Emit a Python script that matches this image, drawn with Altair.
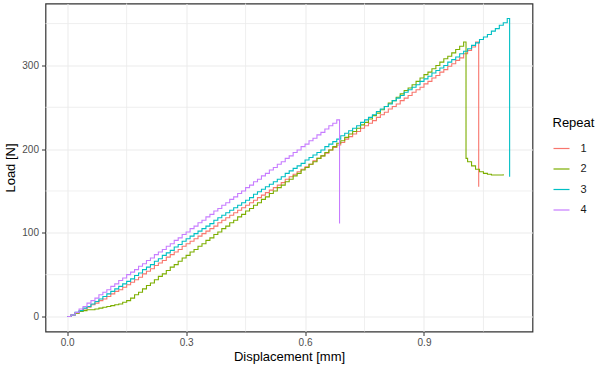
import altair as alt
import pandas as pd

repeats = ["1", "2", "3", "4"]
colors = ["#F8766D", "#7CAE00", "#00BFC4", "#C77CFF"]

disp = [
    0.00, 0.01, 0.02, 0.03, 0.04, 0.05, 0.06, 0.07, 0.08, 0.09,
    0.10, 0.11, 0.12, 0.13, 0.14, 0.15, 0.16, 0.17, 0.18, 0.19,
    0.20, 0.21, 0.22, 0.23, 0.24, 0.25, 0.26, 0.27, 0.28, 0.29,
    0.30, 0.31, 0.32, 0.33, 0.34, 0.35, 0.36, 0.37, 0.38, 0.39,
    0.40, 0.41, 0.42, 0.43, 0.44, 0.45, 0.46, 0.47, 0.48, 0.49,
    0.50, 0.51, 0.52, 0.53, 0.54, 0.55, 0.56, 0.57, 0.58, 0.59,
    0.60, 0.61, 0.62, 0.63, 0.64, 0.65, 0.66, 0.67, 0.68, 0.69,
    0.70, 0.71, 0.72, 0.73, 0.74, 0.75, 0.76, 0.77, 0.78, 0.79,
    0.80, 0.81, 0.82, 0.83, 0.84, 0.85, 0.86, 0.87, 0.88, 0.89,
    0.90, 0.91, 0.92, 0.93, 0.94, 0.95, 0.96, 0.97, 0.98, 0.99,
    1.00, 1.01, 1.02, 1.03, 1.04, 1.05, 1.06, 1.07, 1.08, 1.09,
    1.10, 1.11,
]

load_1 = [
    0, 2, 4, 6, 9, 11, 14, 16, 19, 21,
    24, 27, 30, 32, 35, 38, 41, 44, 47, 51,
    54, 57, 61, 64, 67, 71, 74, 77, 80, 84,
    87, 90, 93, 96, 99, 102, 105, 108, 112, 115,
    118, 121, 124, 127, 130, 133, 136, 139, 142, 145,
    148, 151, 154, 157, 160, 164, 167, 170, 173, 176,
    179, 182, 186, 189, 192, 195, 199, 202, 205, 208,
    212, 215, 218, 221, 225, 228, 231, 234, 238, 241,
    244, 248, 251, 254, 258, 261, 264, 268, 271, 274,
    278, 281, 285, 288, 292, 295, 299, 302, 306, 309,
    314, 318, 322, 328,
]

load_2 = [
    0, 2, 4, 6, 7, 8, 8, 9, 10, 11,
    12, 13, 14, 15, 17, 19, 22, 26, 29, 33,
    37, 40, 44, 48, 51, 55, 59, 62, 66, 70,
    73, 77, 80, 84, 87, 91, 94, 98, 101, 105,
    108, 112, 115, 119, 122, 126, 129, 133, 136, 140,
    143, 147, 150, 154, 157, 161, 164, 168, 171, 175,
    178, 182, 185, 189, 192, 196, 199, 203, 207, 210,
    214, 218, 221, 225, 229, 232, 236, 240, 243, 247,
    251, 255, 258, 262, 266, 270, 273, 277, 281, 285,
    289, 292, 296, 300, 304, 308, 311, 315, 319, 323,
    328, 185, 180, 176, 173, 171, 170, 169, 169, 169,
    170,
]

load_3 = [
    0, 2, 5, 7, 10, 12, 15, 18, 21, 24,
    27, 30, 33, 36, 39, 42, 45, 49, 52, 56,
    59, 62, 66, 69, 73, 76, 79, 83, 86, 90,
    93, 96, 99, 102, 105, 108, 111, 115, 118, 121,
    124, 127, 130, 133, 136, 139, 142, 146, 149, 152,
    155, 158, 161, 164, 167, 171, 174, 177, 180, 183,
    187, 190, 193, 196, 199, 203, 206, 209, 212, 216,
    219, 222, 225, 228, 232, 235, 238, 241, 245, 248,
    251, 254, 258, 261, 264, 268, 271, 274, 277, 281,
    284, 287, 291, 294, 297, 300, 304, 307, 310, 314,
    317, 320, 324, 327, 331, 334, 337, 341, 344, 348,
    351, 356,
]

load_4 = [
    0, 2, 5, 9, 12, 16, 19, 22, 26, 29,
    32, 36, 39, 43, 46, 50, 53, 56, 60, 63,
    67, 70, 74, 77, 80, 84, 87, 91, 94, 98,
    101, 105, 108, 112, 115, 119, 122, 126, 129, 133,
    136, 140, 143, 147, 150, 154, 157, 161, 164, 168,
    171, 175, 178, 182, 185, 189, 192, 196, 199, 203,
    206, 210, 213, 217, 220, 224, 228, 231, 235,
]

# failure (drop) points of each repeat
break_x = [1.038, 1.006, 1.116, 0.687]
break_y = [155, 189, 167, 111]

x_ticks = [0.0, 0.3, 0.6, 0.9]
y_ticks = [0, 100, 200, 300]
x_minor = [0.15, 0.45, 0.75, 1.05]
y_minor = [50, 150, 250, 350]

rows = []
for r, loads, bx, by in zip(repeats, [load_1, load_2, load_3, load_4], break_x, break_y):
    for d, l in zip(disp, loads):
        rows.append({"Displacement": d, "Load": l, "Repeat": r})
    rows.append({"Displacement": bx, "Load": by, "Repeat": r})
df = pd.DataFrame(rows)

FONT = "Liberation Sans"
x_scale = alt.Scale(domain=[-0.0547, 1.1737], nice=False, zero=False)
y_scale = alt.Scale(domain=[-17.9, 374], nice=False, zero=False)

x_axis = alt.Axis(values=x_ticks, format=".1f", title="Displacement [mm]",
                  grid=True, gridColor="#EBEBEB", domain=False,
                  tickColor="#333333", tickSize=4, labelColor="#4D4D4D",
                  labelFontSize=10, labelFont=FONT, titleFont=FONT,
                  titleFontSize=13, titleFontWeight="normal", titleColor="#000000",
                  labelPadding=2, titlePadding=3)
y_axis = alt.Axis(values=y_ticks, format="d", title="Load [N]",
                  grid=True, gridColor="#EBEBEB", domain=False,
                  tickColor="#333333", tickSize=4, labelColor="#4D4D4D",
                  labelFontSize=10, labelFont=FONT, titleFont=FONT,
                  titleFontSize=13, titleFontWeight="normal", titleColor="#000000",
                  labelPadding=3, titlePadding=4)

minor_x = alt.Chart(pd.DataFrame({"Displacement": x_minor})).mark_rule(
    color="#EBEBEB", strokeWidth=0.8
).encode(x=alt.X("Displacement:Q", scale=x_scale, axis=x_axis))

minor_y = alt.Chart(pd.DataFrame({"Load": y_minor})).mark_rule(
    color="#EBEBEB", strokeWidth=0.8
).encode(y=alt.Y("Load:Q", scale=y_scale, axis=y_axis))

lines = alt.Chart(df).mark_line(interpolate="step-after", strokeWidth=1.1).encode(
    x=alt.X("Displacement:Q", scale=x_scale, axis=x_axis),
    y=alt.Y("Load:Q", scale=y_scale, axis=y_axis),
    color=alt.Color(
        "Repeat:N",
        scale=alt.Scale(domain=repeats, range=colors),
        legend=alt.Legend(
            orient="none", legendX=507, legendY=113, title="Repeat",
            titleFont=FONT, titleFontSize=13, titleFontWeight="normal",
            titleColor="#000000", labelFont=FONT, labelFontSize=11,
            labelColor="#1A1A1A", symbolType="stroke", symbolSize=256,
            symbolStrokeWidth=1.2, rowPadding=6.5, titlePadding=10, labelOffset=10,
        ),
    ),
)

chart = (
    alt.layer(minor_x, minor_y, lines)
    .properties(
        width=487, height=328,
        autosize=alt.AutoSizeParams(type="none"),
        padding={"left": 45.5, "top": 3.5, "right": 67.5, "bottom": 45.5},
    )
    .configure(font=FONT, background="white")
    .configure_view(stroke="#333333", strokeWidth=1.2)
)

chart.save("out.html", embed_options={"renderer": "svg", "actions": False})
